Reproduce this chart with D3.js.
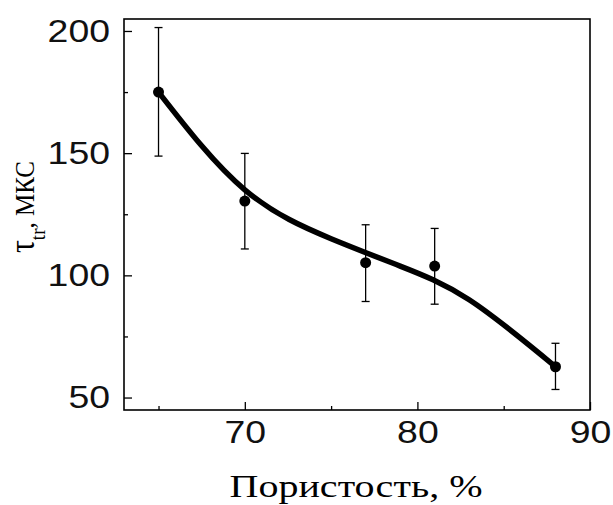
<!DOCTYPE html>
<html><head><meta charset="utf-8">
<script src="https://cdn.jsdelivr.net/npm/d3@7"></script>
<style>html,body{margin:0;padding:0;background:#fff}</style>
</head><body>
<svg id="chart" width="613" height="505"></svg>
<script>
// data
const porosity = [65, 70, 77, 81, 88];
const tau = [175, 130.4, 105.2, 103.8, 62.6];
const errUp = [26.4, 19.5, 15.5, 15.4, 9.6];
const errDown = [26.2, 19.6, 15.9, 15.6, 9.3];
const fitX = [65, 70, 75, 79, 83, 88];
const fitY = [175, 135, 115, 103.8, 90, 62.6];
const xTicks = [70, 80, 90];
const xMinor = [65, 75, 85];
const yTicks = [50, 100, 150, 200];
const yMinor = [75, 125, 175];
const xTitle = "Пористость, %";

const svg = d3.select("#chart");
const L = 124, T = 19, R = 590, B = 410;
const x = d3.scaleLinear().domain([63, 90]).range([L, R]);
const y = d3.scaleLinear().domain([44.9, 204.9]).range([B, T]);

const g = svg.append("g");

// minor ticks
const minorAxisX = d3.axisBottom(x).tickValues(xMinor).tickSizeInner(-4).tickSizeOuter(0).tickFormat("");
const minorAxisY = d3.axisLeft(y).tickValues(yMinor).tickSizeInner(-4).tickSizeOuter(0).tickFormat("");
g.append("g").attr("transform", `translate(0,${B})`).call(minorAxisX);
g.append("g").attr("transform", `translate(${L},0)`).call(minorAxisY);

const ax = g.append("g").attr("transform", `translate(0,${B})`)
  .call(d3.axisBottom(x).tickValues(xTicks).tickSizeInner(-8).tickSizeOuter(0).tickPadding(10));
const ay = g.append("g").attr("transform", `translate(${L},0)`)
  .call(d3.axisLeft(y).tickValues(yTicks).tickSizeInner(-8).tickSizeOuter(0).tickPadding(14));

svg.selectAll(".domain").remove();
svg.selectAll(".tick line").attr("stroke", "#000").attr("stroke-width", 1.3);
svg.selectAll(".tick text")
  .attr("font-family", "'Liberation Sans', Arial, sans-serif")
  .attr("font-size", 32).attr("font-weight", "normal").attr("fill", "#111")
  .each(function() {
    const t = d3.select(this);
    t.attr("textLength", t.text().length * 20.8).attr("lengthAdjust", "spacingAndGlyphs");
  });

// frame
svg.append("rect").attr("x", L).attr("y", T).attr("width", R - L).attr("height", B - T)
  .attr("fill", "none").attr("stroke", "#000").attr("stroke-width", 1.6);

// error bars
const eb = svg.append("g").attr("stroke", "#000").attr("stroke-width", 1.3);
porosity.forEach((p, i) => {
  const cx = x(p), y1 = y(tau[i] + errUp[i]), y2 = y(tau[i] - errDown[i]);
  eb.append("line").attr("x1", cx).attr("x2", cx).attr("y1", y1).attr("y2", y2);
  eb.append("line").attr("x1", cx - 4).attr("x2", cx + 4).attr("y1", y1).attr("y2", y1);
  eb.append("line").attr("x1", cx - 4).attr("x2", cx + 4).attr("y1", y2).attr("y2", y2);
});

// fit curve
const fit = fitX.map((v, i) => [v, fitY[i]]);
svg.append("path").datum(fit)
  .attr("d", d3.line().x(d => x(d[0])).y(d => y(d[1])).curve(d3.curveNatural))
  .attr("fill", "none").attr("stroke", "#000").attr("stroke-width", 5.5).attr("stroke-linecap", "round");

// points
svg.append("g").selectAll("circle").data(porosity).join("circle")
  .attr("cx", d => x(d)).attr("cy", (d, i) => y(tau[i])).attr("r", 5.5).attr("fill", "#000");

// x title
svg.append("text").attr("x", 356).attr("y", 497).attr("text-anchor", "middle")
  .attr("font-family", "'Liberation Serif', 'Times New Roman', serif").attr("font-size", 32)
  .attr("textLength", 253).attr("lengthAdjust", "spacingAndGlyphs")
  .text(xTitle);

// y title
const yt = svg.append("text")
  .attr("transform", "translate(34,253) rotate(-90) scale(1,1.12)")
  .attr("font-family", "'Liberation Serif', 'Times New Roman', serif").attr("font-size", 25);
yt.append("tspan").attr("font-size", 32).text("τ");
yt.append("tspan").attr("font-size", 19).attr("dy", 10).text("tr");
yt.append("tspan").attr("dy", -10).text(", МКС");
</script>
</body></html>
